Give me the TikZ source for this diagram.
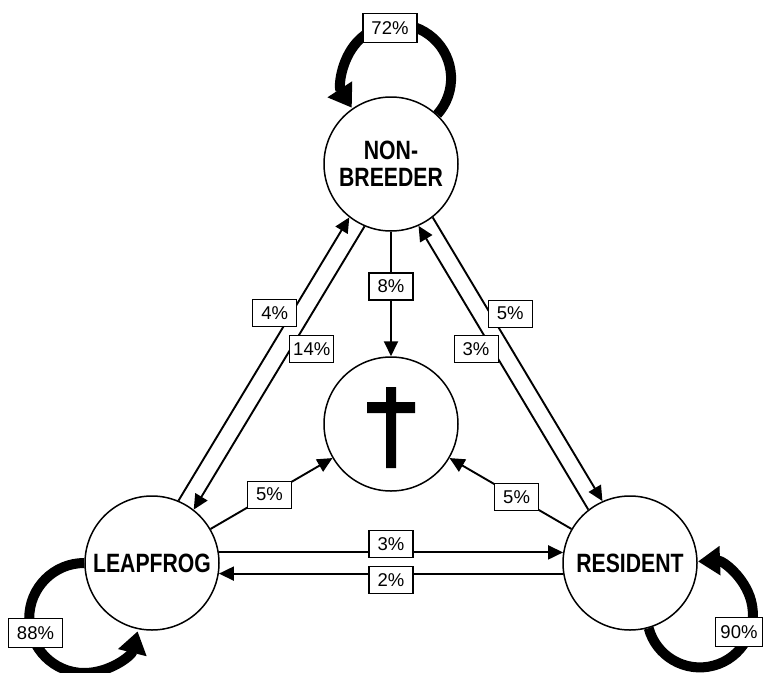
\documentclass[tikz,border=0pt]{standalone}
\usepackage{fontspec}
\setmainfont{Liberation Sans}
\newfontfamily\namefont[FakeStretch=0.8]{Liberation Sans Bold}
\usetikzlibrary{arrows.meta}

\begin{document}
\begin{tikzpicture}[x=1pt, y=1pt,
bird/.style = {circle, draw, line width=1.5pt, minimum size=134pt, inner sep=0pt,
    align=center, font=\namefont\fontsize{26.5}{27}\selectfont},
pct/.style = {draw, fill=white, line width=1.1pt, minimum width=44pt,
    minimum height=27pt, inner sep=0pt, font=\fontsize{18.5}{18.5}\selectfont},
bigpct/.style = {pct, minimum width=54pt, minimum height=29pt},
move/.style = {line width=1.9pt, -{Triangle[length=15pt, width=14pt]}},
stay/.style = {line width=10pt, -{Triangle[length=22pt, width=28pt]}}]
\useasboundingbox (0,0) rectangle (763,-672);

% stages
\node[bird] (nb) at (391,-164) {NON-\\BREEDER};
\node[bird] (dth) at (391,-424) {};
\node[bird] (lf) at (152,-563) {LEAPFROG};
\node[bird] (rs) at (630,-563) {RESIDENT};
\fill[shift={(dth.center)}] (-5,37) rectangle (5,-44) (-24,22) rectangle (24,11);

% staying in the same stage
\draw[stay] (nb.47) arc[start angle=-42, end angle=213, radius=54];
\node[bigpct] (p72) at (390,-28) {72\%};
\draw[stay] (lf.180) arc[start angle=90, end angle=346, radius=55];
\node[bigpct] (p88) at (35.5,-633) {88\%};
\draw[stay] (rs.286) arc[start angle=195, end angle=452, radius=53];
\node[bigpct, minimum width=47pt] (p90) at (739,-632) {90\%};

% moving between stages
\draw[move] (nb) -- node[pct, pos=0.44] (p8) {8\%} (dth);
\draw[move] (lf.67) -- node[pct, pos=0.663, xshift=-17pt] (p4) {4\%} (nb.232);
\draw[move] (nb.247) -- node[pct, pos=0.432, xshift=21pt] (p14) {14\%} (lf.52);
\draw[move] (rs.128) -- node[pct, pos=0.567, xshift=-16pt] (p3a) {3\%} (nb.294);
\draw[move] (nb.308) -- node[pct, pos=0.339, xshift=20pt] (p5a) {5\%} (rs.114);
\draw[move] (lf.9) -- node[pct, yshift=8pt] (p3b) {3\%} (rs.171);
\draw[move] (rs.189) -- node[pct, yshift=-6pt] (p2) {2\%} (lf.351);
\draw[move] (lf) -- node[pct, pos=0.484] (p5b) {5\%} (dth);
\draw[move] (rs) -- node[pct, pos=0.45] (p5c) {5\%} (dth);
\end{tikzpicture}
\end{document}
